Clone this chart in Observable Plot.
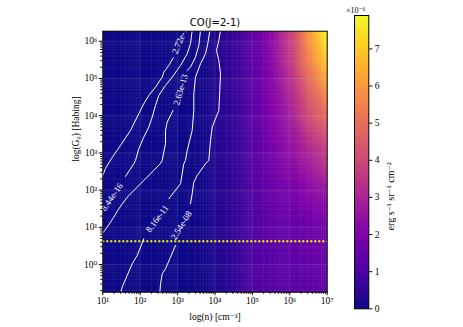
<!DOCTYPE html>
<html><head><meta charset="utf-8">
<script src="https://cdn.jsdelivr.net/npm/d3@7"></script>
<script src="https://cdn.jsdelivr.net/npm/@observablehq/plot@0.6"></script>
<style>
body{margin:0;background:#fff;}
#wrap{position:relative;width:463px;height:327px;}
#wrap svg{position:absolute;left:0;top:0;}
</style></head><body><div id="wrap"></div>
<script>
// ---- data (log10 values) ----
const title = "CO(J=2-1)";
const logN = [1, 3, 3.5, 4, 4.5, 5, 5.5, 6, 6.5, 7];
const logG0 = [6.27, 5.5, 5, 4, 3, 2, 1, 0, -0.745];
// intensity (x 1e-6 erg s^-1 sr^-1 cm^-2), one row per logG0 value
const row_g6_27 = [0, 0, 0.05, 0.2, 0.6, 1.35, 2.3, 3.7, 6.0, 7.9];
const row_g5_5  = [0, 0, 0.05, 0.2, 0.6, 1.3, 2.2, 3.5, 5.5, 7.2];
const row_g5    = [0, 0, 0.05, 0.2, 0.6, 1.3, 2.1, 3.2, 4.9, 6.4];
const row_g4    = [0, 0, 0.05, 0.2, 0.55, 1.2, 2.0, 2.8, 4.1, 5.0];
const row_g3    = [0, 0, 0.05, 0.2, 0.55, 1.15, 1.8, 2.35, 3.0, 3.6];
const row_g2    = [0, 0, 0.05, 0.2, 0.5, 1.1, 1.55, 1.8, 2.2, 2.5];
const row_g1    = [0, 0, 0.05, 0.2, 0.5, 1.05, 1.35, 1.5, 1.6, 1.75];
const row_g0    = [0, 0, 0.05, 0.2, 0.45, 1.0, 1.2, 1.3, 1.4, 1.5];
const row_gm    = [0, 0, 0.05, 0.2, 0.45, 1.0, 1.15, 1.25, 1.3, 1.35];
const colorMax = 7.9;
const colorTicks = [0, 1, 2, 3, 4, 5, 6, 7];

// contour lines [logn, logG0] (segments broken by inline labels)
const c_2_72e18 = [[2.882,5.556],[2.765,5.349],[2.631,5.169],[2.588,5.035],[2.409,4.766],[2.230,4.543],[2.096,4.320],[1.963,4.051],[1.829,3.782],[1.741,3.602],[1.473,3.199],[1.233,2.849],[1.072,2.581],[1.0,2.392]];
const c_8_44e16 = [[3.390,6.29],[3.345,5.933],[3.257,5.664],[3.078,5.349],[2.856,5.035],[2.676,4.812],[2.497,4.543],[2.409,4.274],[2.321,3.960],[2.230,3.691],[2.096,3.422],[1.963,3.110],[1.874,2.796],[1.829,2.707],[1.607,2.366]];
const c_2_63e13_a = [[3.612,6.29],[3.567,5.887],[3.479,5.573],[3.345,5.304],[3.251,5.215]];
const c_2_63e13_b = [[2.877,4.140],[2.722,3.825],[2.676,3.602],[2.676,3.245],[2.588,2.796],[2.543,2.715],[2.275,2.438],[1.920,2.078],[1.652,1.809],[1.428,1.497],[1.294,1.272],[1.118,1.003],[1.0,0.847]];
const c_8_16e11_a = [[3.861,6.29],[3.807,5.933],[3.746,5.664],[3.612,5.395],[3.479,5.035],[3.433,4.589],[3.433,4.140],[3.390,3.602],[3.257,3.065],[3.211,2.796],[3.166,2.707],[3.078,2.169],[2.765,1.766]];
const c_8_16e11_b = [[2.096,0.691],[2.008,0.465],[1.920,0.242],[1.786,0.019],[1.652,-0.296],[1.519,-0.610],[1.473,-0.78]];
const c_2_54e08_a = [[4.147,6.29],[4.102,6.022],[4.040,5.753],[4.102,5.484],[4.147,5.126],[4.128,4.677],[4.102,4.140],[3.925,3.691],[3.880,3.333],[3.834,2.796],[3.746,2.707],[3.524,2.392],[3.433,2.212],[3.390,1.901],[3.345,1.632]];
const c_2_54e08_b = [[2.944,0.511],[2.810,0.196],[2.676,-0.116],[2.588,-0.250],[2.543,-0.519],[2.524,-0.78]];

const labelText  = ["2.72e-18", "8.44e-16", "2.63e-13", "8.16e-11", "2.54e-08"];
const labelN     = [3.078, 1.243, 3.078, 2.455, 3.099];
const labelG     = [6.067, 1.812, 4.699, 1.228, 1.048];
const labelAngle = [-68, -55, -74, -53, -58.6];

const refG0Log = 0.626; // dotted horizontal line
const majorX = [1, 2, 3, 4, 5, 6, 7];
const majorY = [0, 1, 2, 3, 4, 5, 6];

// ---- build tables ----
const rows = [row_g6_27, row_g5_5, row_g5, row_g4, row_g3, row_g2, row_g1, row_g0, row_gm];
const grid = [];
logG0.forEach((g, i) => rows[i].forEach((v, j) => grid.push({n: logN[j], g, v})));
const segs = {A: c_2_72e18, B: c_8_44e16, C1: c_2_63e13_a, C2: c_2_63e13_b, D1: c_8_16e11_a, D2: c_8_16e11_b, E1: c_2_54e08_a, E2: c_2_54e08_b};
const contourPts = [];
for (const [k, pts] of Object.entries(segs)) pts.forEach(([n, g]) => contourPts.push({seg: k, n, g}));
const labels = labelText.map((t, i) => ({t, n: labelN[i], g: labelG[i], a: labelAngle[i]}));

const minorX = [], minorY = [];
for (let k = 1; k < 7; k++) for (let m = 2; m <= 9; m++) minorX.push(k + Math.log10(m));
for (let k = -1; k < 7; k++) for (let m = 2; m <= 9; m++) { const v = k + Math.log10(m); if (v > -0.745 && v < 6.27) minorY.push(v); }

const sup = s => String(s).replace(/-/g, "⁻").replace(/\d/g, d => "⁰¹²³⁴⁵⁶⁷⁸⁹"[d]);
const fmt = d => "10" + sup(d);
const colorOpt = {type: "linear", scheme: "plasma", domain: [0, colorMax]};
const serif = "'Liberation Serif', 'DejaVu Serif', serif";

const main = Plot.plot({
  width: 463, height: 327,
  marginLeft: 102.3, marginRight: 136.3, marginTop: 30.7, marginBottom: 35.3,
  x: {domain: [1, 7]},
  y: {domain: [-0.745, 6.27]},
  color: colorOpt,
  style: {fontFamily: serif, fontSize: "9.5px", background: "white", color: "black"},
  marks: [
    Plot.raster(grid, {x: "n", y: "g", fill: "v", interpolate: "barycentric", pixelSize: 1}),
    Plot.ruleX(majorX, {stroke: "white", strokeOpacity: 0.16, strokeWidth: 0.8}),
    Plot.ruleY(majorY, {stroke: "white", strokeOpacity: 0.16, strokeWidth: 0.8}),
    Plot.ruleX(minorX, {stroke: "white", strokeOpacity: 0.08, strokeWidth: 0.8}),
    Plot.ruleY(minorY, {stroke: "white", strokeOpacity: 0.08, strokeWidth: 0.8}),
    Plot.line(contourPts, {x: "n", y: "g", z: "seg", stroke: "white", strokeWidth: 1, clip: true}),
    Plot.text(labels, {x: "n", y: "g", text: "t", rotate: "a", fill: "white", fontSize: 9, fontFamily: serif, clip: true}),
    Plot.ruleY([refG0Log], {stroke: "#ffff00", strokeWidth: 2, strokeDasharray: "2,2"}),
    Plot.frame({stroke: "black", strokeWidth: 1}),
    Plot.axisX({ticks: majorX, tickSize: 3.5, tickPadding: 2, tickFormat: fmt, label: null}),
    Plot.axisX({ticks: minorX, tickSize: 2, tickFormat: () => "", label: null}),
    Plot.axisY({ticks: majorY, tickSize: 3.5, tickPadding: 2, tickFormat: fmt, label: null}),
    Plot.axisY({ticks: minorY, tickSize: 2, tickFormat: () => "", label: null}),
    Plot.text([title], {frameAnchor: "top", lineAnchor: "middle", dy: -8.5, fontSize: 10, fontFamily: "'DejaVu Sans', sans-serif", fill: "black"}),
    Plot.text(["log(n) [cm⁻³]"], {frameAnchor: "bottom", lineAnchor: "middle", dy: 25, fontSize: 9.5, fill: "black"}),
    Plot.text(["log(G₀) [Habing]"], {frameAnchor: "left", lineAnchor: "middle", dx: -26.5, rotate: -90, fontSize: 9.5, fill: "black"})
  ]
});

const cbar = Plot.plot({
  width: 463, height: 327,
  marginLeft: 354, marginRight: 94.7, marginTop: 15, marginBottom: 18.7,
  x: {domain: [0, 1], axis: null},
  y: {domain: [0, colorMax]},
  color: colorOpt,
  style: {fontFamily: serif, fontSize: "9.5px", background: "transparent", color: "black"},
  marks: [
    Plot.raster({fill: (x, y) => y, x1: 0, x2: 1, y1: 0, y2: colorMax, pixelSize: 1}),
    Plot.frame({stroke: "black", strokeWidth: 1}),
    Plot.axisY({ticks: colorTicks, anchor: "right", tickSize: 3, tickPadding: 3, label: null}),
    Plot.text(["×10⁻⁶"], {frameAnchor: "top", lineAnchor: "middle", dx: -6, dy: -5.5, fontSize: 8, fill: "black"}),
    Plot.text(["erg s⁻¹ sr⁻¹ cm⁻²"], {frameAnchor: "right", lineAnchor: "middle", dx: 22, rotate: -90, fontSize: 10, fill: "black"})
  ]
});

const wrap = document.getElementById("wrap");
wrap.appendChild(main);
wrap.appendChild(cbar);
</script></body></html>
